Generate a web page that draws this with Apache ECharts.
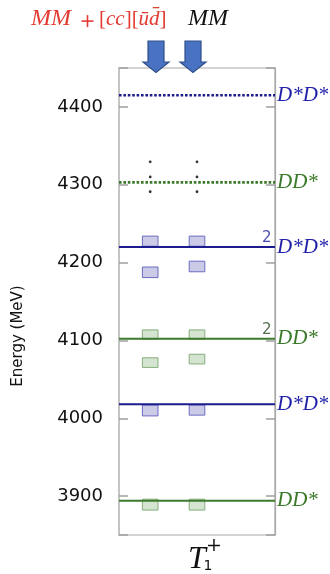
<!DOCTYPE html>
<html>
<head>
<meta charset="utf-8">
<script src="https://cdn.jsdelivr.net/npm/echarts@6/dist/echarts.min.js"></script>
<style>html,body{margin:0;padding:0;background:#fff}#c{width:330px;height:574px}</style>
</head>
<body>
<div id="c"></div>
<script>
// ---- data ----
const columnNames = ['MM+[cc][ud]', 'MM'];
const columnX = [2, 5];
// lattice levels: centre energies (MeV) and half-heights of error boxes
const blueLevelsMMcc = [4227.5, 4187.5, 4010];
const blueErrMMcc    = [6.5, 6.8, 7];
const blueLevelsMM   = [4227.5, 4195, 4010.5];
const blueErrMM      = [6.5, 6.8, 6.5];
const greenLevelsMMcc = [4107.5, 4071.5, 3889];
const greenErrMMcc    = [6, 6.2, 7];
const greenLevelsMM   = [4107.5, 4076, 3889];
const greenErrMM      = [6, 6.2, 7];
// "more levels" dots
const dotEnergies = [4329.5, 4310, 4291];
// non-interacting thresholds
const thresholdEnergies = [4415, 4303, 4220, 4102, 4018, 3894];
const thresholdNames    = ['D*D*', 'DD*', 'D*D*', 'DD*', 'D*D*', 'DD*'];
const thresholdKind     = ['blue', 'green', 'blue', 'green', 'blue', 'green'];
const thresholdDotted   = [true, true, false, false, false, false];
// degeneracy labels
const degenEnergies = [4220, 4102];
const degenKind     = ['blue', 'green'];
const degenText     = ['2', '2'];
// axis
const yMin = 3850, yMax = 4450;
const xMin = 0, xMax = 10;

// ---- styles ----
const C = {
  blueLine: '#1c1c8e', greenLine: '#3d7a2c',
  blueText: '#1f1fa8', greenText: '#3b7a2a',
  blueFill: 'rgba(140,140,205,0.45)', blueStroke: '#6b6bc2',
  greenFill: 'rgba(160,195,150,0.45)', greenStroke: '#86ad7c',
  deg: { blue: '#1a1aa0', green: '#2a4a1e' }
};
const BOX_HALF = 0.5;
const RED = '#e23b32';

function boxSeries(levels, errs, x, kind) {
  return {
    type: 'custom', z: 3,
    data: levels.map((e, i) => [x, e, errs[i]]),
    renderItem: function (params, api) {
      const xv = api.value(0), yv = api.value(1), ev = api.value(2);
      const p1 = api.coord([xv - BOX_HALF, yv + ev]);
      const p2 = api.coord([xv + BOX_HALF, yv - ev]);
      return {
        type: 'rect',
        shape: { x: p1[0], y: p1[1], width: p2[0] - p1[0], height: p2[1] - p1[1] },
        style: {
          fill: kind === 'blue' ? C.blueFill : C.greenFill,
          stroke: kind === 'blue' ? C.blueStroke : C.greenStroke,
          lineWidth: 1
        }
      };
    }
  };
}

const series = [];
series.push(boxSeries(blueLevelsMMcc, blueErrMMcc, columnX[0], 'blue'));
series.push(boxSeries(blueLevelsMM, blueErrMM, columnX[1], 'blue'));
series.push(boxSeries(greenLevelsMMcc, greenErrMMcc, columnX[0], 'green'));
series.push(boxSeries(greenLevelsMM, greenErrMM, columnX[1], 'green'));

thresholdEnergies.forEach((E, i) => {
  const blue = thresholdKind[i] === 'blue';
  series.push({
    type: 'line', z: 5, symbol: 'none', silent: true, animation: false,
    data: [[xMin, E], [xMax, E]],
    lineStyle: {
      color: blue ? C.blueLine : C.greenLine,
      width: thresholdDotted[i] ? 2.6 : 2,
      type: thresholdDotted[i] ? [2.6, 1.8] : 'solid'
    },
    endLabel: {
      show: true, formatter: thresholdNames[i], distance: 2,
      color: blue ? C.blueText : C.greenText,
      fontFamily: 'Liberation Serif', fontStyle: 'italic', fontSize: 21
    }
  });
});

series.push({
  type: 'scatter', z: 6, symbol: 'circle', symbolSize: 0.01, silent: true,
  data: degenEnergies.map((E, i) => ({
    value: [9.47, E],
    label: { show: true, position: 'top', distance: 1, formatter: degenText[i],
      color: C.deg[degenKind[i]], fontFamily: 'DejaVu Sans', fontSize: 15 }
  }))
});

series.push({
  type: 'scatter', z: 6, symbol: 'circle', symbolSize: 2.8, silent: true,
  itemStyle: { color: '#000' },
  data: columnX.flatMap(x => dotEnergies.map(E => [x, E]))
});

function arrow(cx) {
  return {
    type: 'polygon', z: 100,
    shape: { points: [[cx - 8, 41], [cx + 8, 41], [cx + 8, 62], [cx + 13, 62], [cx, 72.5], [cx - 13, 62], [cx - 8, 62]] },
    style: { fill: '#4a72c2', stroke: '#2f4f8a', lineWidth: 1.2 }
  };
}
function mathText(x, y, text, size, color, italic, align) {
  return { type: 'text', x: x, y: y, z: 100,
    style: { text: text, fontFamily: 'Liberation Serif', fontStyle: italic ? 'italic' : 'normal',
      fontSize: size, fill: color, align: align || 'left', verticalAlign: 'middle' } };
}

const chart = echarts.init(document.getElementById('c'), null, { renderer: 'canvas' });
chart.setOption({
  animation: false,
  backgroundColor: '#fff',
  grid: { left: 119, right: 55, top: 68, bottom: 39, show: true, borderColor: '#a8a8a8', borderWidth: 1.2 },
  xAxis: { type: 'value', min: xMin, max: xMax, axisLabel: { show: false }, axisTick: { show: false },
    splitLine: { show: false }, axisLine: { show: false } },
  yAxis: [
    { type: 'value', min: yMin, max: yMax, splitLine: { show: false },
      axisLine: { show: true, lineStyle: { color: '#c4c4c4', width: 2 } },
      axisTick: { show: true, inside: true, length: 9, lineStyle: { color: '#a0a0a0', width: 1.5 } },
      axisLabel: { margin: 16, color: '#111', fontFamily: 'DejaVu Sans', fontSize: 18,
        formatter: v => (v % 100 === 0 ? String(v) : '') } },
    { type: 'value', min: yMin, max: yMax, position: 'right', splitLine: { show: false },
      axisLine: { show: true, lineStyle: { color: '#a8a8a8', width: 1.2 } },
      axisTick: { show: true, inside: true, length: 9, lineStyle: { color: '#a0a0a0', width: 1.5 } },
      axisLabel: { show: false } }
  ],
  series: series,
  graphic: [
    mathText(31, 19, 'MM', 24, RED, true),
    { type: 'rect', z: 100, shape: { x: 81.5, y: 20.3, width: 12, height: 1.6 }, style: { fill: RED } },
    { type: 'rect', z: 100, shape: { x: 86.7, y: 15.1, width: 1.6, height: 12 }, style: { fill: RED } },
    { type: 'text', x: 99, y: 19, z: 100,
      style: { text: '{r|[}{i|cc}{r|][}{i|ūd̄}{r|]}', verticalAlign: 'middle', rich: {
        i: { fontFamily: 'Liberation Serif', fontStyle: 'italic', fontSize: 21, fill: RED },
        r: { fontFamily: 'Liberation Serif', fontSize: 21, fill: RED } } } },
    mathText(188, 19, 'MM', 24, '#111', true),
    arrow(156), arrow(193),
    { type: 'text', x: 18, y: 336, rotation: Math.PI / 2, z: 100,
      style: { text: 'Energy (MeV)', fontFamily: 'DejaVu Sans', fontSize: 15, fill: '#111', align: 'center', verticalAlign: 'middle' } },
    { type: 'text', x: 197, y: 560, z: 100,
      style: { text: 'T', fontFamily: 'Liberation Serif', fontStyle: 'italic', fontSize: 32, fill: '#111', align: 'center', verticalAlign: 'middle' } },
    { type: 'text', x: 214, y: 546, z: 100,
      style: { text: '+', fontFamily: 'DejaVu Serif', fontSize: 19, fill: '#111', align: 'center', verticalAlign: 'middle' } },
    { type: 'text', x: 208, y: 566, z: 100,
      style: { text: '1', fontFamily: 'DejaVu Sans', fontSize: 14, fill: '#111', align: 'center', verticalAlign: 'middle' } }
  ]
});
</script>
</body>
</html>
